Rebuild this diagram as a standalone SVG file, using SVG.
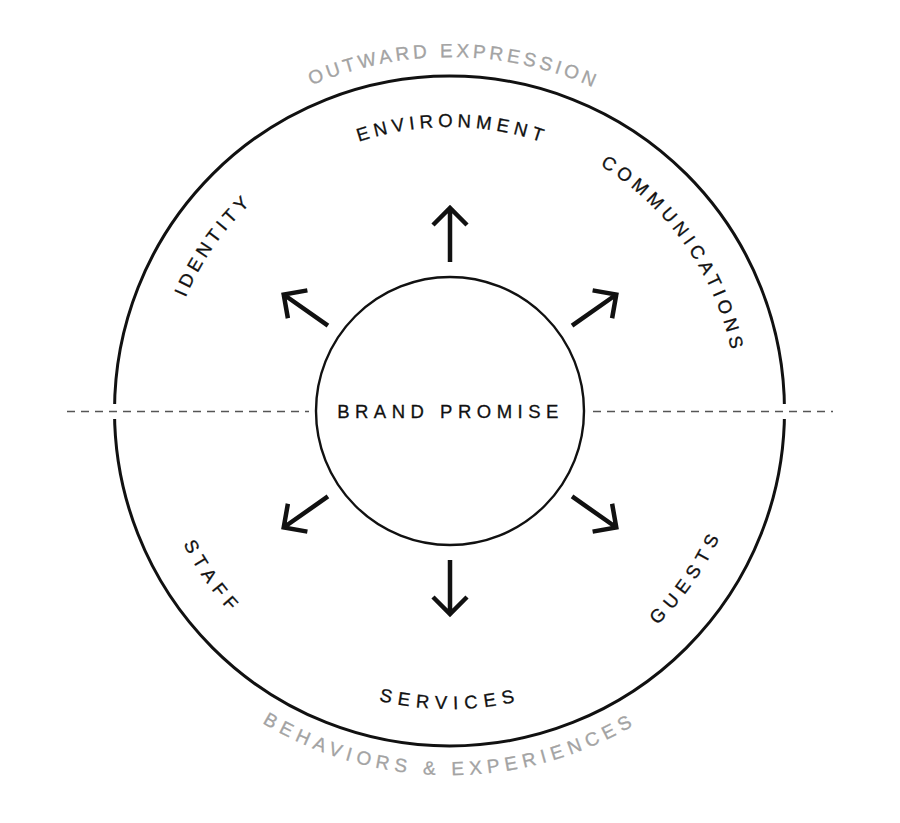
<svg xmlns="http://www.w3.org/2000/svg" xmlns:xlink="http://www.w3.org/1999/xlink" width="900" height="823" viewBox="0 0 900 823">
  <style>
    .lbl { font-family: "Liberation Sans", Arial, sans-serif; font-size: 18.5px; fill: #111; stroke: #111; stroke-width: 0.3px; }
    .top { letter-spacing: 4.3px; }
    .bot { letter-spacing: 6.3px; }
    .gray { font-family: "Liberation Sans", Arial, sans-serif; font-size: 19px; fill: #a3a3a3; stroke: #a3a3a3; stroke-width: 0.3px; }
    .ring { fill: none; stroke: #111; stroke-width: 3; }
    .core { fill: #fff; stroke: #111; stroke-width: 2.4; }
    .arrow { fill: none; stroke: #111; stroke-width: 4.5; stroke-linejoin: miter; stroke-linecap: butt; }
    .dash { fill: none; stroke: #555; stroke-width: 1.5; stroke-dasharray: 8 6; }
  </style>
  <defs>
    <g id="arrow">
      <path class="arrow" d="M0,-149 V-204 M-17,-186 L0,-203 L17,-186"/>
    </g>
    <path id="p-env" d="M170.3,361.7 A284,284 0 0 1 729.7,361.7"/>
    <path id="p-com" d="M328.3,150.0 A288,288 0 0 1 653.6,614.6"/>
    <path id="p-ide" d="M246.4,614.6 A288,288 0 0 1 571.7,150.0"/>
    <path id="p-ser" d="M156.5,462.7 A298,298 0 0 0 743.5,462.7"/>
    <path id="p-sta" d="M239.3,200.3 A298,298 0 0 0 575.9,681.1"/>
    <path id="p-gue" d="M324.1,681.1 A298,298 0 0 0 660.7,200.3"/>
    <path id="p-out" d="M101.4,349.5 A354,354 0 0 1 798.6,349.5"/>
    <path id="p-beh" d="M91.5,474.2 A364,364 0 0 0 808.5,474.2"/>
  </defs>
  <rect width="900" height="823" fill="#fff"/>

  <g id="outer-ring">
    <circle class="ring" cx="449.5" cy="411" r="335"/>
    <rect x="106" y="404" width="18" height="15" fill="#fff"/>
    <rect x="775" y="404" width="18" height="15" fill="#fff"/>
  </g>

  <g id="connectors">
    <line class="dash" x1="67" y1="411.5" x2="309" y2="411.5"/>
    <line class="dash" x1="593" y1="411.5" x2="833" y2="411.5"/>
    <use href="#arrow" transform="translate(450,411)"/>
    <use href="#arrow" transform="translate(450,411) rotate(55)"/>
    <use href="#arrow" transform="translate(450,411) rotate(-55)"/>
    <use href="#arrow" transform="translate(450,411) rotate(125)"/>
    <use href="#arrow" transform="translate(450,411) rotate(-125)"/>
    <use href="#arrow" transform="translate(450,411) rotate(180)"/>
  </g>

  <g id="brand-promise">
    <circle class="core" cx="450" cy="411" r="134"/>
    <text class="lbl" x="450.5" y="418" text-anchor="middle" font-size="18" style="letter-spacing:5.5px">BRAND PROMISE</text>
  </g>

  <g id="outward-expression">
    <text class="gray" style="letter-spacing:3.7px"><textPath href="#p-out" startOffset="50.4%" text-anchor="middle">OUTWARD EXPRESSION</textPath></text>
  </g>
  <g id="behaviors-experiences">
    <text class="gray" style="letter-spacing:5.5px"><textPath href="#p-beh" startOffset="50%" text-anchor="middle">BEHAVIORS &amp; EXPERIENCES</textPath></text>
  </g>

  <g id="environment">
    <text class="lbl" style="letter-spacing:4.9px"><textPath href="#p-env" startOffset="50.3%" text-anchor="middle">ENVIRONMENT</textPath></text>
  </g>
  <g id="communications">
    <text class="lbl" style="letter-spacing:4.7px"><textPath href="#p-com" startOffset="50%" text-anchor="middle">COMMUNICATIONS</textPath></text>
  </g>
  <g id="identity">
    <text class="lbl top"><textPath href="#p-ide" startOffset="50%" text-anchor="middle">IDENTITY</textPath></text>
  </g>
  <g id="services">
    <text class="lbl bot"><textPath href="#p-ser" startOffset="50%" text-anchor="middle">SERVICES</textPath></text>
  </g>
  <g id="staff">
    <text class="lbl bot"><textPath href="#p-sta" startOffset="50%" text-anchor="middle">STAFF</textPath></text>
  </g>
  <g id="guests">
    <text class="lbl bot"><textPath href="#p-gue" startOffset="50%" text-anchor="middle">GUESTS</textPath></text>
  </g>
</svg>
